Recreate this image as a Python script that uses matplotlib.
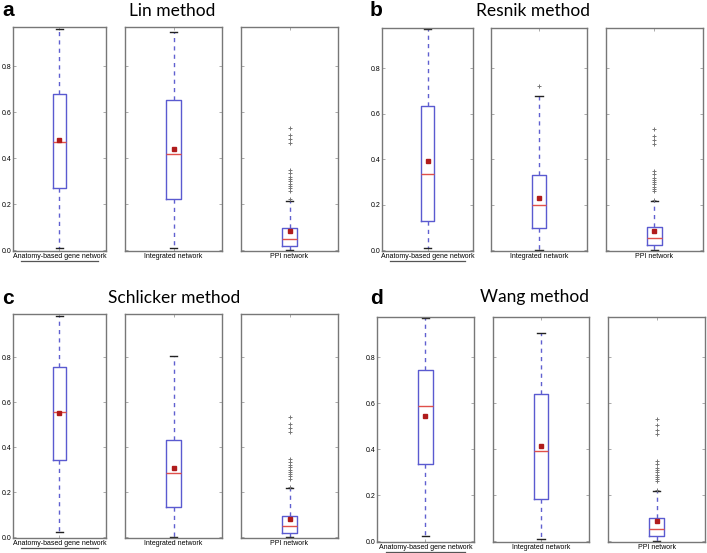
import matplotlib
matplotlib.use("Agg")
import matplotlib.pyplot as plt
from matplotlib.lines import Line2D

methods = ["Lin method", "Resnik method", "Schlicker method", "Wang method"]
letters = ["a", "b", "c", "d"]
networks = ["Anatomy-based gene network", "Integrated network", "PPI network"]

# per method: [anatomy, integrated, ppi]
whislo = [[0.012, 0.009, 0.0], [0.011, 0.003, 0.003], [0.022, 0.0, 0.0], [0.023, 0.012, 0.003]]
q1 = [[0.271, 0.221, 0.020], [0.131, 0.097, 0.024], [0.344, 0.136, 0.018], [0.336, 0.183, 0.023]]
med = [[0.473, 0.417, 0.049], [0.337, 0.198, 0.053], [0.554, 0.287, 0.049], [0.588, 0.393, 0.054]]
q3 = [[0.678, 0.652, 0.097], [0.633, 0.331, 0.101], [0.754, 0.430, 0.096], [0.745, 0.638, 0.101]]
whishi = [[0.961, 0.951, 0.216], [0.973, 0.677, 0.217], [0.981, 0.803, 0.218], [0.968, 0.906, 0.220]]
means = [[0.479, 0.439, 0.083], [0.391, 0.232, 0.085], [0.550, 0.308, 0.081], [0.545, 0.413, 0.087]]
integrated_fliers_resnik = [0.724]
ppi_fliers = [0.532, 0.503, 0.485, 0.467, 0.348, 0.335, 0.32, 0.31, 0.30,
              0.29, 0.28, 0.27, 0.26, 0.222]
ytop = [0.971, 0.978, 0.991, 0.974]

fig = plt.figure(figsize=(7.07, 5.53), dpi=100)
W, H = 707.0, 553.0

# pixel layout of the three axes in each panel: (lefts, widths, top, bottom)
layout = [
    ([13, 125, 241], [93, 97, 97], 27, 251),
    ([382, 491, 606], [91, 96, 97], 28, 251),
    ([13, 125, 241], [93, 97, 97], 314, 538),
    ([377, 493, 608], [97, 96, 97], 317, 542),
]
title_pos = [(172, 11), (533, 11), (174, 298), (534, 297)]
letter_pos = [(2, 11), (370, 11), (2, 299), (370, 298)]

for m in range(4):
    lefts, widths, top, bot = layout[m]
    for n in range(3):
        ax = fig.add_axes([lefts[n] / W, 1 - bot / H, widths[n] / W, (bot - top) / H])
        fl = []
        if n == 2:
            fl = ppi_fliers
        elif n == 1 and m == 1:
            fl = integrated_fliers_resnik
        stats = [dict(whislo=whislo[m][n], q1=q1[m][n], med=med[m][n], q3=q3[m][n],
                      whishi=whishi[m][n], mean=means[m][n], fliers=fl)]
        ax.bxp(stats, positions=[1], widths=0.15, showmeans=True,
               boxprops=dict(color="#5a5ad0", linewidth=1.0),
               medianprops=dict(color="#e0504a", linewidth=1.0),
               whiskerprops=dict(color="#6060d0", linewidth=1.0, linestyle=(0, (3, 3))),
               capprops=dict(color="#222222", linewidth=1.0),
               flierprops=dict(marker="+", markeredgecolor="#777777", markersize=3,
                               markeredgewidth=0.7, linestyle="none"),
               meanprops=dict(marker="s", markerfacecolor="#b01c1c",
                              markeredgecolor="#b01c1c", markersize=3.5))
        ax.set_xlim(0.5, 1.5)
        ax.set_ylim(-0.003, ytop[m])
        ax.set_yticks([0.0, 0.2, 0.4, 0.6, 0.8])
        ax.set_xticks([1])
        ax.set_xticklabels([networks[n]], fontsize=5, family="Liberation Sans")
        ax.tick_params(direction="in", length=2, width=0.5, color="#888888",
                       top=True, right=True, pad=1.5)
        ax.tick_params(axis="y", labelsize=5, pad=0.8)
        if n == 0:
            ax.set_yticklabels(["0.0", "0.2", "0.4", "0.6", "0.8"], family="Liberation Sans")
            ax.add_line(Line2D([0.09, 0.91], [-0.045, -0.045], transform=ax.transAxes,
                               color="#555555", linewidth=0.9, clip_on=False))
        else:
            ax.set_yticklabels([])
        for s in ax.spines.values():
            s.set_color("#777777")
            s.set_linewidth(1.0)
    tx, ty = title_pos[m]
    fig.text(tx / W, 1 - ty / H, methods[m], fontsize=12.5, family="Lato",
             ha="center", va="center")
    lx, ly = letter_pos[m]
    fig.text(lx / W, 1 - ly / H, letters[m], fontsize=15, fontweight="bold",
             family="Liberation Sans", ha="left", va="center")

fig.savefig("out.png", dpi=100)
